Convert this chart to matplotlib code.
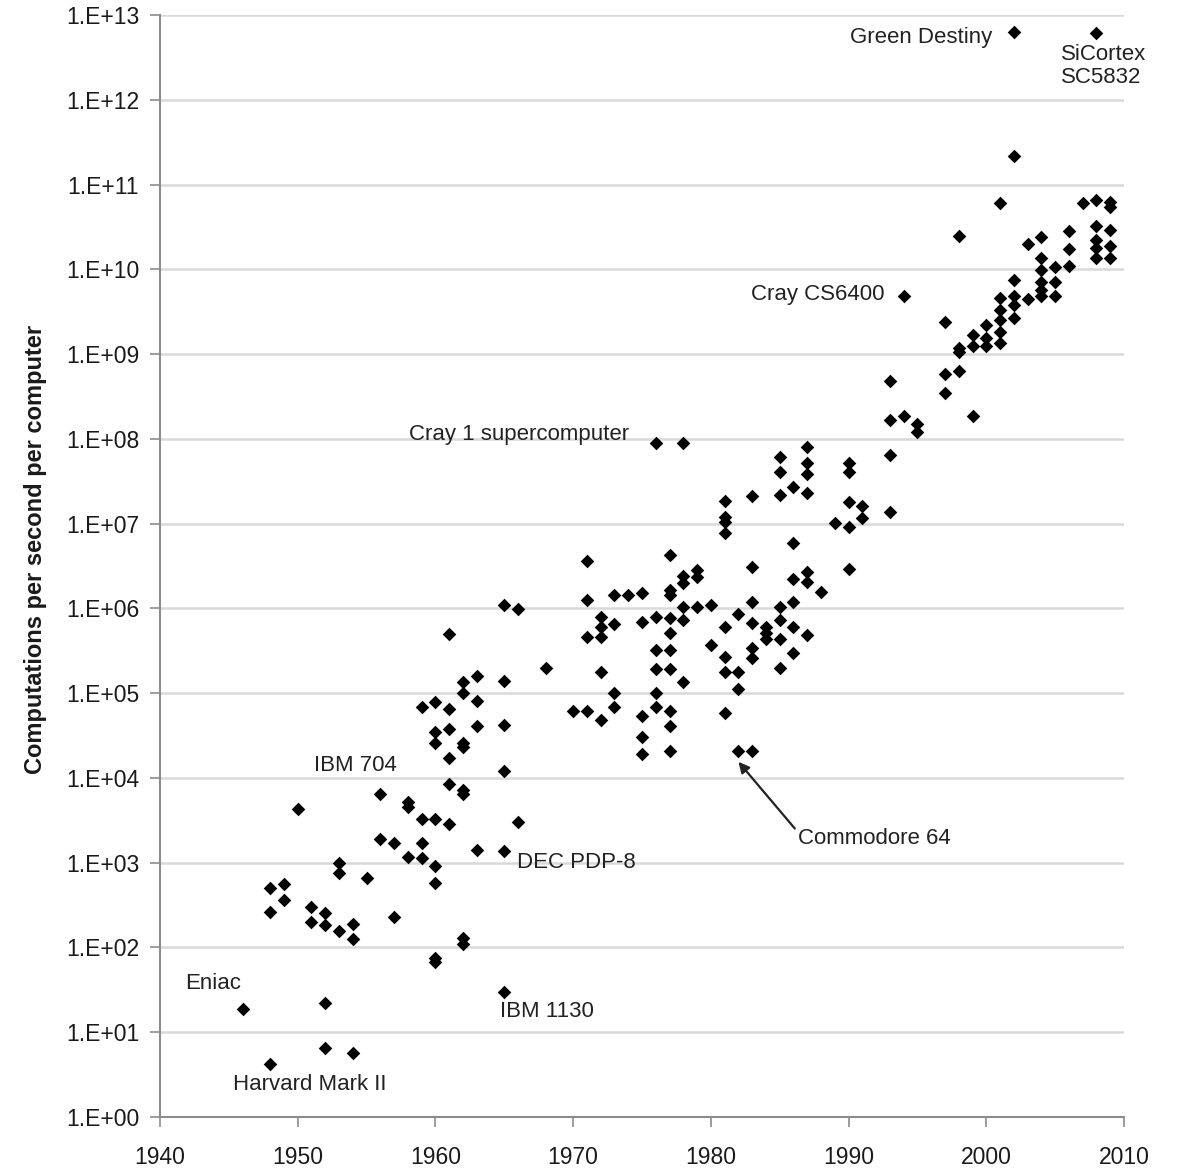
import numpy as np
import matplotlib
matplotlib.use("Agg")
import matplotlib.pyplot as plt
from matplotlib.ticker import NullLocator

plt.rcParams['font.family'] = ['Liberation Sans', 'DejaVu Sans']

# -------- Data (year, computations per second) --------
years = [1946,
         1948, 1948, 1948,
         1949, 1949,
         1950,
         1951, 1951,
         1952, 1952, 1952, 1952,
         1953, 1953, 1953,
         1954, 1954, 1954,
         1955,
         1956, 1956,
         1957, 1957,
         1958, 1958, 1958,
         1959, 1959, 1959, 1959,
         1960, 1960, 1960, 1960, 1960, 1960, 1960, 1960,
         1961, 1961, 1961, 1961, 1961, 1961,
         1962, 1962, 1962, 1962, 1962, 1962, 1962, 1962,
         1963, 1963, 1963, 1963,
         1965, 1965, 1965, 1965, 1965, 1965,
         1966, 1966,
         1968,
         1970,
         1971, 1971, 1971, 1971,
         1972, 1972, 1972, 1972, 1972,
         1973, 1973, 1973, 1973,
         1974,
         1975, 1975, 1975, 1975, 1975,
         1976, 1976, 1976, 1976, 1976, 1976,
         1977, 1977, 1977, 1977, 1977, 1977, 1977, 1977, 1977, 1977,
         1978, 1978, 1978, 1978, 1978, 1978,
         1979, 1979, 1979,
         1980, 1980,
         1981, 1981, 1981, 1981, 1981, 1981, 1981, 1981,
         1982, 1982, 1982, 1982,
         1983, 1983, 1983, 1983, 1983, 1983, 1983,
         1984, 1984, 1984,
         1985, 1985, 1985, 1985, 1985, 1985, 1985,
         1986, 1986, 1986, 1986, 1986, 1986,
         1987, 1987, 1987, 1987, 1987, 1987, 1987,
         1988,
         1989,
         1990, 1990, 1990, 1990, 1990,
         1991, 1991,
         1993, 1993, 1993, 1993,
         1994, 1994,
         1995, 1995,
         1997, 1997, 1997,
         1998, 1998, 1998, 1998,
         1999, 1999, 1999,
         2000, 2000, 2000,
         2001, 2001, 2001, 2001, 2001, 2001,
         2002, 2002, 2002, 2002, 2002, 2002,
         2003, 2003,
         2004, 2004, 2004, 2004, 2004, 2004,
         2005, 2005, 2005,
         2006, 2006, 2006,
         2007,
         2008, 2008, 2008, 2008, 2008, 2008,
         2009, 2009, 2009, 2009, 2009]

cps = [19,
       4.2, 500, 263,
       560, 360,
       4300,
       300, 200,
       22, 6.5, 255, 185,
       157, 1000, 750,
       5.7, 190, 126,
       660,
       6500, 1900,
       230, 1700,
       5200, 4500, 1170,
       3300, 1700, 1140, 69000,
       75, 67, 3300, 910, 580, 35000, 26000, 79000,
       2880, 8500, 17000, 38000, 65000, 5.0e5,
       130, 110, 7200, 6500, 26000, 23000, 1.35e5, 1.0e5,
       1400, 41000, 81000, 1.6e5,
       30, 42000, 12000, 1380, 1.4e5, 1.1e6,
       3000, 9.8e5,
       2.0e5,
       62000,
       62000, 3.6e6, 1.26e6, 4.6e5,
       48000, 1.78e5, 4.6e5, 6.1e5, 8.0e5,
       1.0e5, 69000, 6.6e5, 1.45e6,
       1.45e6,
       1.5e6, 6.9e5, 54000, 30000, 19000,
       8.9e7, 8.0e5, 3.2e5, 1.95e5, 1.0e5, 69000,
       4.3e6, 1.66e6, 1.45e6, 7.8e5, 5.1e5, 3.2e5, 1.95e5, 62000, 41000, 21000,
       8.9e7, 2.4e6, 2.0e6, 1.05e6, 7.3e5, 1.35e5,
       2.8e6, 2.35e6, 1.05e6,
       1.1e6, 3.7e5,
       1.86e7, 1.2e7, 1.05e7, 7.8e6, 6.0e5, 2.7e5, 1.78e5, 59000,
       8.7e5, 1.8e5, 1.12e5, 21000,
       2.1e7, 3.1e6, 1.2e6, 6.7e5, 3.4e5, 2.6e5, 21000,
       6.0e5, 5.1e5, 4.3e5,
       6.1e7, 4.1e7, 2.2e7, 1.05e6, 7.3e5, 4.3e5, 2.0e5,
       2.7e7, 5.9e6, 2.2e6, 1.2e6, 6.0e5, 3.0e5,
       8.1e7, 5.2e7, 3.8e7, 2.3e7, 2.7e6, 2.05e6, 4.9e5,
       1.56e6,
       1.02e7,
       5.2e7, 4.1e7, 1.8e7, 9.1e6, 2.95e6,
       1.6e7, 1.17e7,
       4.8e8, 1.66e8, 6.5e7, 1.38e7,
       4.9e9, 1.87e8,
       1.5e8, 1.2e8,
       2.4e9, 5.9e8, 3.5e8,
       2.5e10, 1.17e9, 1.07e9, 6.3e8,
       1.7e9, 1.23e9, 1.87e8,
       2.2e9, 1.55e9, 1.23e9,
       6.0e10, 4.6e9, 3.3e9, 2.5e9, 1.8e9, 1.35e9,
       6.3e12, 2.2e11, 7.5e9, 4.8e9, 3.8e9, 2.7e9,
       2.0e10, 4.5e9,
       2.4e10, 1.37e10, 9.8e9, 7.1e9, 5.7e9, 4.8e9,
       1.07e10, 7.1e9, 4.9e9,
       2.8e10, 1.74e10, 1.1e10,
       6.0e10,
       6.2e12, 6.6e10, 3.2e10, 2.2e10, 1.8e10, 1.37e10,
       6.3e10, 5.5e10, 2.9e10, 1.9e10, 1.37e10]

# Named machines: (label, x, y, ha, va)
labels = [('Green Destiny', 2000.4, 5.4e12, 'right', 'center'),
          ('SiCortex\nSC5832', 2005.4, 4.6e12, 'left', 'top'),
          ('Cray CS6400', 1992.6, 5.0e9, 'right', 'center'),
          ('Cray 1 supercomputer', 1974.1, 1.12e8, 'right', 'center'),
          ('IBM 704', 1951.2, 1.4e4, 'left', 'center'),
          ('DEC PDP-8', 1965.9, 1.0e3, 'left', 'center'),
          ('Eniac', 1941.8, 38, 'left', 'center'),
          ('IBM 1130', 1964.7, 17.5, 'left', 'center'),
          ('Harvard Mark II', 1945.3, 2.4, 'left', 'center')]

yticks = [10.0 ** k for k in range(0, 14)]
ytick_labels = ['1.E+%02d' % k for k in range(0, 14)]
xticks = list(range(1940, 2011, 10))

# -------- Plot --------
fig = plt.figure(figsize=(11.78, 11.70), dpi=100)
ax = fig.add_axes([160 / 1178, 1 - 1117 / 1170, (1124 - 160) / 1178, (1117 - 15) / 1170])

ax.scatter(years, cps, marker='D', s=48, color='black', linewidths=0, zorder=3)

ax.set_yscale('log')
ax.set_ylim(1, 1e13)
ax.set_xlim(1940, 2010)
ax.set_yticks(yticks)
ax.set_yticklabels(ytick_labels)
ax.yaxis.set_minor_locator(NullLocator())
ax.set_xticks(xticks)
ax.set_xticklabels([str(x) for x in xticks])

ax.yaxis.grid(True, color='#d9d9d9', linewidth=1.8)
ax.set_axisbelow(True)
for side in ['top', 'right']:
    ax.spines[side].set_visible(False)
for side in ['left', 'bottom']:
    ax.spines[side].set_color('#8c8c8c')
    ax.spines[side].set_linewidth(1.5)
ax.tick_params(axis='both', direction='out', length=7, width=1.2, color='#8c8c8c',
               labelsize=16.5, labelcolor='#1a1a1a')
ax.tick_params(axis='y', pad=8)
ax.tick_params(axis='x', pad=14)

ax.set_ylabel('Computations per second per computer', fontsize=17, fontweight='bold',
              color='#1a1a1a')
ax.yaxis.set_label_coords(-0.117, 0.515)

for txt, x, y, ha, va in labels:
    ax.text(x, y, txt, ha=ha, va=va, fontsize=16, color='#222222', linespacing=1.15)

ax.annotate('Commodore 64', xy=(1982.0, 1.55e4), xytext=(1986.3, 1.95e3),
            fontsize=16, color='#222222', ha='left', va='center',
            arrowprops=dict(arrowstyle='-|>', color='#222222', lw=1.6,
                            mutation_scale=16, shrinkA=0, shrinkB=0,
                            relpos=(0.0, 0.8)))

fig.savefig('out.png', dpi=100)
